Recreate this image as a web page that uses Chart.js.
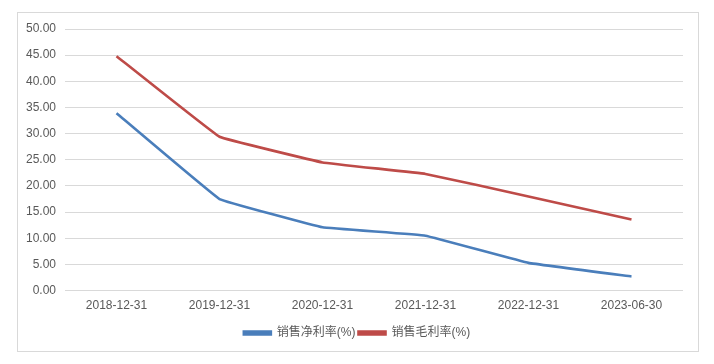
<!DOCTYPE html>
<html>
<head>
<meta charset="utf-8">
<script src="https://cdn.jsdelivr.net/npm/chart.js@4.4.0/dist/chart.umd.min.js"></script>
<style>
html,body{margin:0;padding:0;background:#fff;}
#wrap{position:relative;width:714px;height:364px;}
</style>
</head>
<body>
<div id="wrap"><canvas id="c" width="714" height="364"></canvas></div>
<script>
const categories = ["2018-12-31","2019-12-31","2020-12-31","2021-12-31","2022-12-31","2023-06-30"];
const netMargin = [33.9, 17.5, 12.1, 10.5, 5.3, 2.7];
const grossMargin = [44.8, 29.4, 24.5, 22.3, 18.0, 13.6];
const seriesNames = ["销售净利率(%)", "销售毛利率(%)"];

const FONT = '"Liberation Sans", Arial, "Noto Sans CJK SC", sans-serif';

const frame = {
  id: 'frame',
  beforeDraw(chart) {
    const ctx = chart.ctx;
    ctx.save();
    ctx.fillStyle = '#fff';
    ctx.fillRect(0, 0, chart.width, chart.height);
    ctx.strokeStyle = '#d9d9d9';
    ctx.lineWidth = 1;
    ctx.strokeRect(17.5, 12.5, 681, 339);
    ctx.restore();
  },
  afterLayout(chart) {
    if (chart.legend) {
      chart.legend.left = 31;
      chart.legend.right = 683;
      chart.legend.width = 652;
    }
  }
};

new Chart(document.getElementById('c'), {
  type: 'line',
  data: {
    labels: categories,
    datasets: [
      { label: seriesNames[0], data: netMargin, borderColor: '#4a7ebb', backgroundColor: '#4a7ebb', borderWidth: 2.6, pointRadius: 0, tension: 0.05, fill: false },
      { label: seriesNames[1], data: grossMargin, borderColor: '#be4b48', backgroundColor: '#be4b48', borderWidth: 2.6, pointRadius: 0, tension: 0.05, fill: false }
    ]
  },
  options: {
    responsive: false,
    animation: false,
    devicePixelRatio: 1,
    layout: { padding: { left: 0, right: 31, top: 29, bottom: 15 } },
    plugins: {
      legend: {
        position: 'bottom',
        labels: {
          font: { family: FONT, size: 12 },
          color: '#595959',
          boxWidth: 27,
          boxHeight: 3,
          padding: 3
        }
      },
      tooltip: { enabled: false }
    },
    scales: {
      x: {
        offset: true,
        grid: { display: false, drawTicks: false },
        border: { display: false },
        ticks: { font: { family: FONT, size: 12 }, color: '#595959', padding: 8, maxRotation: 0 },
        afterFit(s) { s.height += 3; }
      },
      y: {
        min: 0, max: 50,
        grid: { color: '#d9d9d9', lineWidth: 1, drawTicks: false },
        border: { display: false },
        ticks: { stepSize: 5, font: { family: FONT, size: 12 }, color: '#595959', padding: 9,
          callback: v => Number(v).toFixed(2) },
        afterFit(s) { s.width = 65; }
      }
    }
  },
  plugins: [frame]
});
</script>
</body>
</html>
